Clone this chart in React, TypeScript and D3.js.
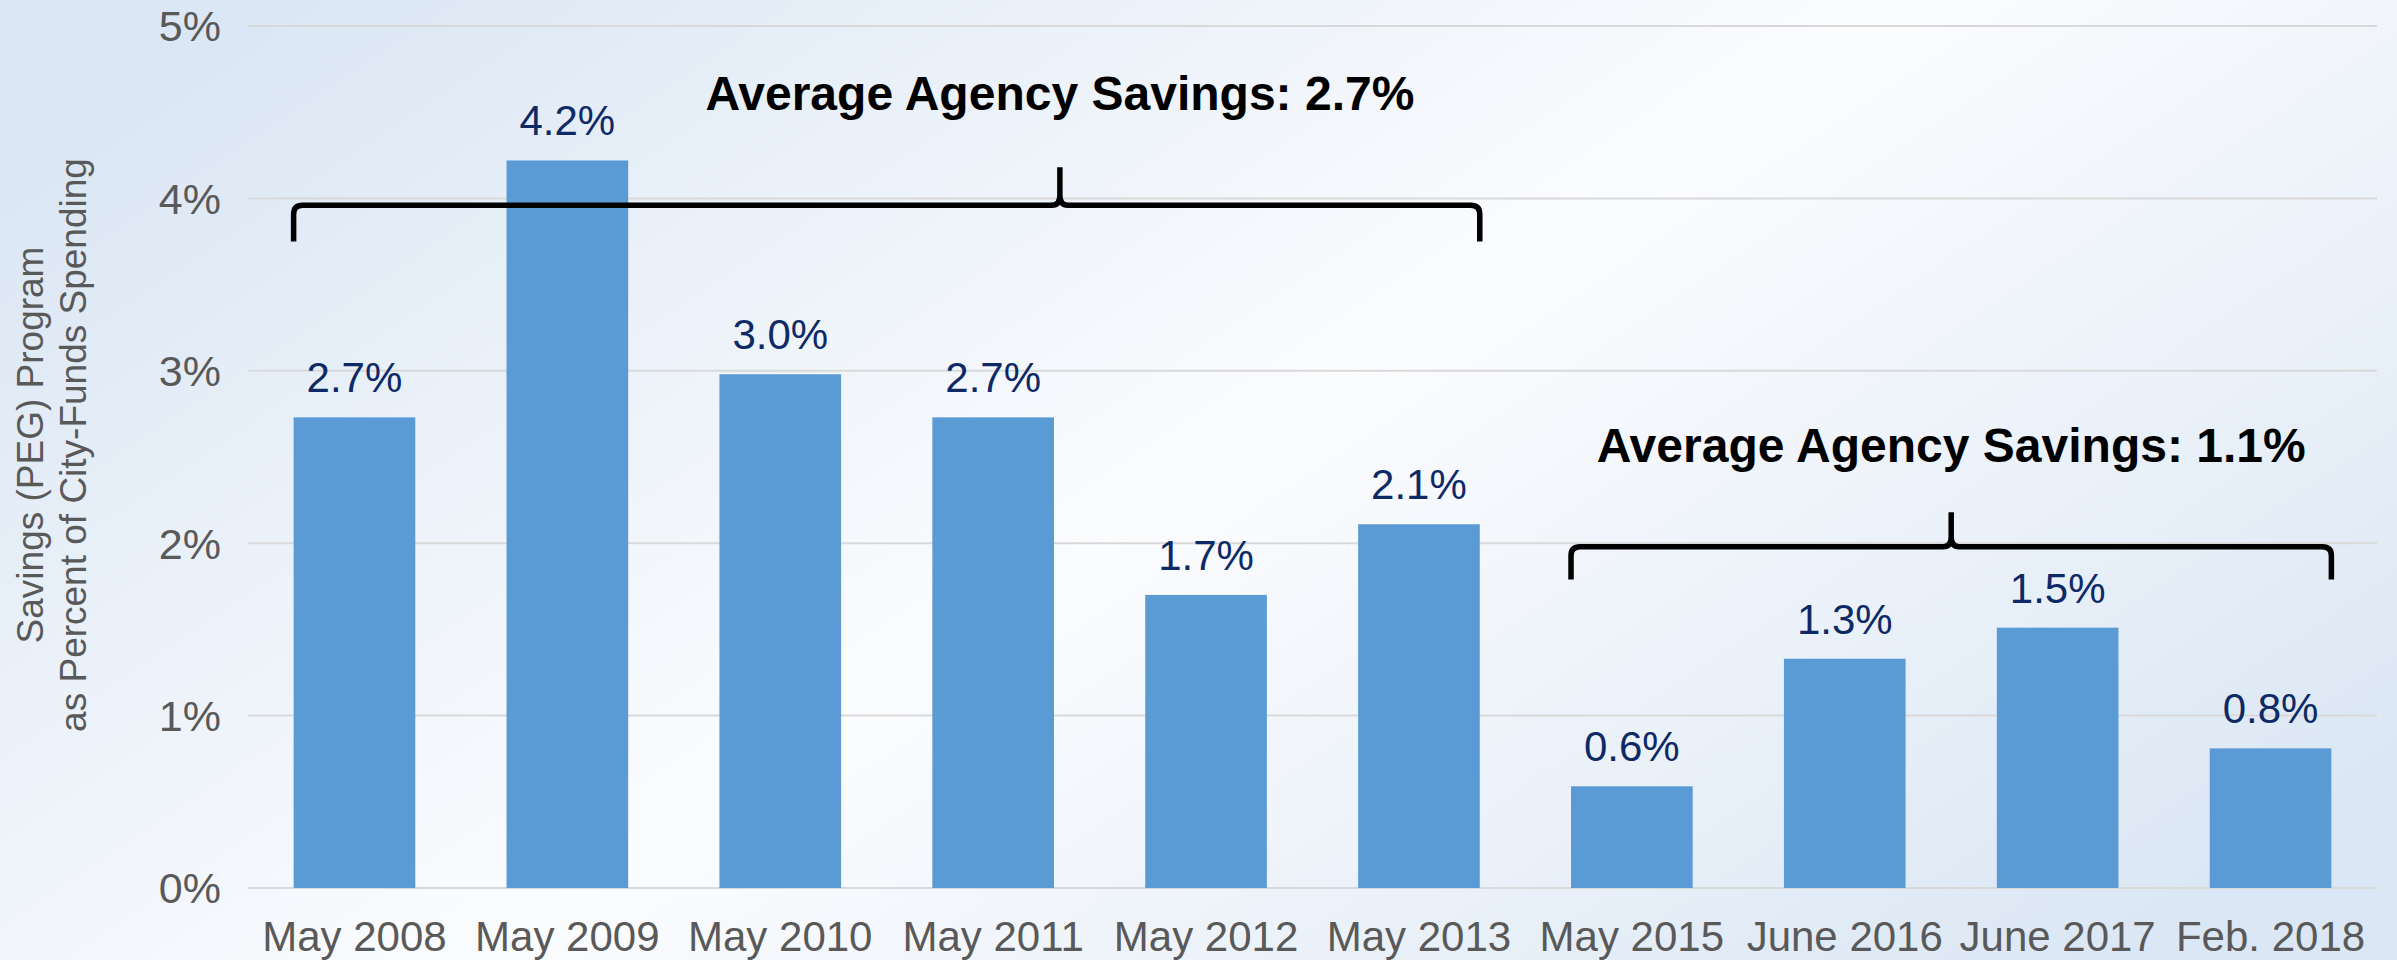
import React from "react";
import * as d3 from "d3";

const categories = ["May 2008", "May 2009", "May 2010", "May 2011", "May 2012", "May 2013", "May 2015", "June 2016", "June 2017", "Feb. 2018"];
const values = [2.73, 4.22, 2.98, 2.73, 1.70, 2.11, 0.59, 1.33, 1.51, 0.81];
const valueLabels = ["2.7%", "4.2%", "3.0%", "2.7%", "1.7%", "2.1%", "0.6%", "1.3%", "1.5%", "0.8%"];
const yTicks = [0, 1, 2, 3, 4, 5];
const yTickLabels = ["0%", "1%", "2%", "3%", "4%", "5%"];
const yTitleLines = ["Savings (PEG) Program", "as Percent of City-Funds Spending"];

// bracket groups: first index, last index, text, line level, drop level, spike top, text baseline, spike fraction
const groupLabels = ["Average Agency Savings: 2.7%", "Average Agency Savings: 1.1%"];
const groupStart = [0, 6];
const groupEnd = [5, 9];
const groupLine = [3.96, 1.98];
const groupDrop = [3.75, 1.79];
const groupSpike = [4.18, 2.18];
const groupText = [4.51, 2.47];
const groupSpikeFrac = [0.646, 0.5];

const W = 2397;
const H = 960;
const M = { left: 248, right: 20, top: 26, bottom: 72 };

export default function App() {
  const x = d3
    .scaleBand<string>()
    .domain(categories)
    .range([M.left, W - M.right])
    .paddingInner(0.4286)
    .paddingOuter(0.2143);
  const y = d3.scaleLinear().domain([0, 5]).range([H - M.bottom, M.top]);
  const font = "'Liberation Sans', Arial, sans-serif";

  const bracketPath = (g: number) => {
    const x0 = x(categories[groupStart[g]])!;
    const x1 = x(categories[groupEnd[g]])! + x.bandwidth();
    const xs = x0 + (x1 - x0) * groupSpikeFrac[g];
    const yl = y(groupLine[g]);
    const yd = y(groupDrop[g]);
    const ys = y(groupSpike[g]);
    const r = 9;
    const p = d3.path();
    p.moveTo(x0, yd);
    p.lineTo(x0, yl + r);
    p.quadraticCurveTo(x0, yl, x0 + r, yl);
    p.lineTo(xs - 8, yl);
    p.quadraticCurveTo(xs, yl, xs, yl - 10);
    p.lineTo(xs, ys);
    p.moveTo(xs, yl - 10);
    p.quadraticCurveTo(xs, yl, xs + 8, yl);
    p.lineTo(x1 - r, yl);
    p.quadraticCurveTo(x1, yl, x1, yl + r);
    p.lineTo(x1, yd);
    return { d: p.toString(), xs };
  };

  return (
    <svg
      width={W}
      height={H}
      style={{ position: "absolute", left: 0, top: 0, display: "block" }}
      fontFamily={font}
    >
      <defs>
        <linearGradient id="bg" x1="0" y1="0.2" x2="1" y2="0.8">
          <stop offset="0" stopColor="#dbe7f4" />
          <stop offset="0.5" stopColor="#fbfcfe" />
          <stop offset="1" stopColor="#dbe7f4" />
        </linearGradient>
      </defs>
      <rect x={0} y={0} width={W} height={H} fill="url(#bg)" />

      {yTicks.map((t, i) => (
        <g key={t}>
          <line
            x1={M.left}
            x2={W - M.right}
            y1={y(t)}
            y2={y(t)}
            stroke="#d9d9d9"
            strokeWidth={2}
          />
          <text
            x={221}
            y={y(t)}
            dy="0.36em"
            textAnchor="end"
            fontSize={43}
            fill="#595959"
          >
            {yTickLabels[i]}
          </text>
        </g>
      ))}

      <g transform={`translate(0, ${(y(0) + y(5)) / 2 - 12}) rotate(-90)`}>
        {yTitleLines.map((l, i) => (
          <text key={l} x={0} y={43 + i * 43} textAnchor="middle" fontSize={37} fill="#595959">
            {l}
          </text>
        ))}
      </g>

      {categories.map((c, i) => (
        <g key={c}>
          <rect
            x={x(c)}
            y={y(values[i])}
            width={x.bandwidth()}
            height={y(0) - y(values[i])}
            fill="#5b9bd5"
          />
          <text
            x={x(c)! + x.bandwidth() / 2}
            y={y(values[i]) - 25}
            textAnchor="middle"
            fontSize={42}
            fill="#0e2a66"
          >
            {valueLabels[i]}
          </text>
          <text
            x={x(c)! + x.bandwidth() / 2}
            y={951}
            textAnchor="middle"
            fontSize={42}
            fill="#595959"
          >
            {c}
          </text>
        </g>
      ))}

      {groupLabels.map((lab, g) => {
        const b = bracketPath(g);
        return (
          <g key={lab}>
            <path
              d={b.d}
              fill="none"
              stroke="#000"
              strokeWidth={5.5}
              strokeLinejoin="round"
            />
            <text
              x={b.xs}
              y={y(groupText[g])}
              textAnchor="middle"
              fontSize={48}
              fontWeight="bold"
              fill="#000"
              textLength={709}
              lengthAdjust="spacingAndGlyphs"
            >
              {lab}
            </text>
          </g>
        );
      })}
    </svg>
  );
}
